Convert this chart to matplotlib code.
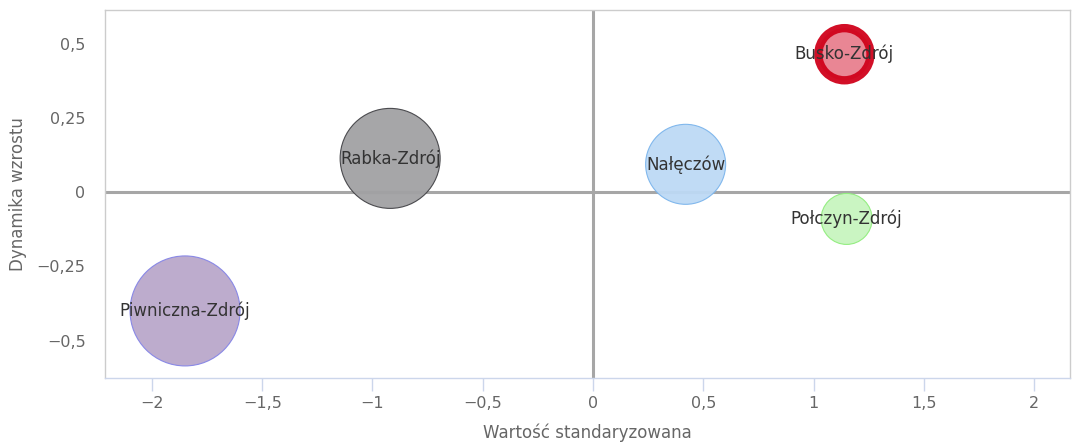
import numpy as np
import matplotlib.pyplot as plt

# Data
names   = ['Busko-Zdrój', 'Rabka-Zdrój', 'Piwniczna-Zdrój', 'Nałęczów', 'Połczyn-Zdrój']
x_std   = [1.14, -0.92, -1.85, 0.42, 1.15]
growth  = [0.465, 0.114, -0.40, 0.094, -0.09]
z_value = [680, 2500, 3025, 1600, 650]

fills   = ['#e8808e', '#a1a1a3', '#baa8cb', '#bdd9f5', '#c8f5bf']
edges   = ['#d0021b', '#444448', '#8585e6', '#7cb5ec', '#90ed7d']
widths  = [6.0, 0.8, 0.8, 0.8, 0.8]

x_ticks = [-2, -1.5, -1, -0.5, 0, 0.5, 1, 1.5, 2]
y_ticks = [-0.5, -0.25, 0, 0.25, 0.5]

def pl(v):
    s = f"{v:g}".replace('.', ',').replace('-', '\u2212')
    return s

plt.rcParams.update({
    'font.family': 'DejaVu Sans',
    'font.size': 11,
})

fig = plt.figure(figsize=(10.72, 4.46), dpi=100)
ax = fig.add_axes([105 / 1072, 68 / 446, 965 / 1072, 368 / 446])

ax.set_xlim(-2.213, 2.163)
ax.set_ylim(-0.626, 0.614)

ax.axvline(0, color='#a6a6a6', lw=2.2, zorder=1)
ax.axhline(0, color='#a6a6a6', lw=2.2, zorder=1)

# radius in px ~ sqrt(z); convert to points^2 for scatter
r_px = np.sqrt(np.array(z_value))
sizes = (2 * r_px * 0.72) ** 2
ax.scatter(x_std, growth, s=sizes, c=fills, edgecolors=edges, linewidths=widths,
           alpha=0.95, zorder=3)

for n, xv, yv in zip(names, x_std, growth):
    ax.text(xv, yv, n, ha='center', va='center', fontsize=12, color='#333333', zorder=4)

ax.set_xticks(x_ticks)
ax.set_xticklabels([pl(v) for v in x_ticks])
ax.set_yticks(y_ticks)
ax.set_yticklabels([pl(v) for v in y_ticks])

ax.tick_params(axis='x', colors='#ccd6eb', length=9, width=1, direction='out', pad=4,
               labelcolor='#666666', labelsize=11.5)
ax.tick_params(axis='y', length=0, pad=14, labelcolor='#666666', labelsize=11.5)

for side in ['top', 'right', 'left']:
    ax.spines[side].set_color('#cccccc')
    ax.spines[side].set_linewidth(1)
ax.spines['bottom'].set_color('#ccd6eb')
ax.spines['bottom'].set_linewidth(1)

ax.set_xlabel('Wartość standaryzowana', color='#666666', fontsize=12, labelpad=9)
ax.set_ylabel('Dynamika wzrostu', color='#666666', fontsize=12, labelpad=7)

fig.savefig('out.png', dpi=100)
